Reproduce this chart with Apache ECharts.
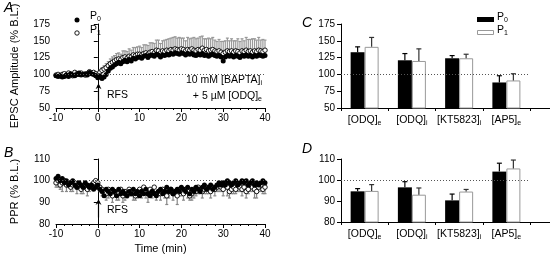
<!DOCTYPE html>
<html>
<head>
<meta charset="utf-8">
<script src="https://cdn.jsdelivr.net/npm/echarts@6/dist/echarts.min.js"></script>
<style>
  html, body { margin: 0; padding: 0; background: #fff; }
  #chart { width: 557px; height: 260px; }
</style>
</head>
<body>
<div id="chart"></div>
<script>
// time points (min)
const times = [
  -10, -9.5, -9, -8.5, -8, -7.5, -7, -6.5, -6, -5.5,
  -5, -4.5, -4, -3.5, -3, -2.5, -2, -1.5, -1, -0.5,
  0, 0.5, 1, 1.5, 2, 2.5, 3, 3.5, 4, 4.5,
  5, 5.5, 6, 6.5, 7, 7.5, 8, 8.5, 9, 9.5,
  10, 10.5, 11, 11.5, 12, 12.5, 13, 13.5, 14, 14.5,
  15, 15.5, 16, 16.5, 17, 17.5, 18, 18.5, 19, 19.5,
  20, 20.5, 21, 21.5, 22, 22.5, 23, 23.5, 24, 24.5,
  25, 25.5, 26, 26.5, 27, 27.5, 28, 28.5, 29, 29.5,
  30, 30.5, 31, 31.5, 32, 32.5, 33, 33.5, 34, 34.5,
  35, 35.5, 36, 36.5, 37, 37.5, 38, 38.5, 39, 39.5,
  40
];

// panel A: EPSC amplitude (% B.L.)
const epscP0 = [
  98, 97, 98, 96, 97, 99, 97, 101, 99, 98,
  100, 102, 99, 100, 101, 99, 103, 101, 100, 98,
  95, 98, 94, 96, 100, 105, 109, 111, 114, 116,
  118, 116, 119, 121, 119, 122, 120, 124, 123, 125,
  126, 124, 127, 128, 125, 128, 129, 127, 130, 129,
  126, 129, 128, 130, 129, 131, 130, 132, 131, 130,
  132, 131, 129, 131, 130, 131, 129, 128, 130, 129,
  131, 128, 129, 127, 129, 130, 128, 127, 128, 126,
  120, 126, 128, 127, 128, 126, 128, 127, 125, 128,
  127, 129, 127, 128, 126, 128, 127, 129, 128, 127,
  128
];
const epscP1 = [
  99, 100, 98, 100, 101, 99, 102, 100, 98, 103,
  101, 100, 102, 100, 99, 101, 104, 102, 103, 101,
  99, 103, 106, 108, 110, 113, 116, 118, 120, 122,
  123, 122, 125, 126, 124, 127, 126, 129, 128, 130,
  130, 129, 131, 132, 130, 133, 134, 132, 136, 135,
  132, 135, 134, 136, 135, 137, 136, 138, 137, 136,
  138, 137, 135, 137, 136, 138, 136, 135, 137, 136,
  139, 136, 137, 135, 136, 137, 135, 134, 135, 133,
  131, 133, 135, 134, 135, 133, 135, 134, 132, 135,
  134, 136, 134, 135, 133, 135, 134, 136, 135, 134,
  136
];
const epscP1Sem = [
  1, 1, 2, 1, 1, 2, 1, 1, 2, 1,
  1, 2, 1, 1, 2, 1, 1, 2, 1, 2,
  2, 3, 4, 5, 6, 6, 7, 8, 8, 9,
  9, 8, 10, 9, 10, 11, 10, 11, 12, 11,
  12, 11, 13, 12, 13, 14, 13, 14, 15, 16,
  14, 15, 17, 16, 18, 17, 19, 18, 17, 19,
  16, 17, 15, 18, 17, 16, 19, 18, 17, 20,
  18, 17, 16, 19, 17, 18, 16, 15, 17, 16,
  18, 17, 19, 16, 18, 17, 15, 19, 17, 18,
  16, 19, 18, 17, 20, 18, 17, 19, 16, 18,
  15
];

// panel B: PPR (% B.L.)
const pprP0 = [
  101, 102, 100, 101, 99, 100, 98, 99, 100, 98,
  97, 99, 98, 97, 99, 98, 97, 98, 96, 97,
  98, 96, 95, 93, 96, 95, 94, 96, 95, 93,
  96, 94, 95, 94, 93, 95, 94, 96, 94, 95,
  93, 95, 94, 96, 94, 93, 95, 94, 93, 95,
  96, 94, 95, 97, 95, 96, 94, 95, 96, 95,
  97, 96, 95, 97, 94, 96, 95, 97, 96, 95,
  97, 98, 96, 97, 98, 96, 97, 98, 99, 98,
  99, 98, 100, 99, 98, 99, 100, 98, 99, 100,
  99, 100, 98, 99, 100, 98, 99, 98, 99, 100,
  99
];
const pprP1 = [
  99, 100, 98, 99, 100, 98, 99, 97, 98, 99,
  97, 98, 96, 97, 98, 96, 97, 98, 99, 100,
  99, 97, 96, 95, 94, 96, 95, 93, 95, 94,
  94, 96, 93, 95, 94, 96, 95, 94, 93, 95,
  96, 95, 97, 95, 94, 96, 95, 97, 94, 95,
  94, 96, 95, 93, 95, 96, 94, 95, 93, 96,
  95, 94, 96, 95, 93, 94, 96, 95, 97, 96,
  95, 96, 97, 96, 95, 97, 96, 97, 98, 97,
  96, 98, 97, 95, 96, 97, 96, 98, 97, 96,
  97, 95, 96, 98, 97, 96, 95, 97, 98, 96,
  97
];
const pprP1Sem = [
  2, 3, 2, 4, 2, 3, 2, 2, 3, 2,
  3, 2, 2, 3, 2, 3, 2, 2, 3, 2,
  3, 2, 3, 2, 3, 4, 2, 3, 2, 3,
  3, 2, 3, 4, 2, 3, 2, 3, 2, 3,
  2, 3, 2, 3, 4, 2, 3, 2, 3, 2,
  3, 2, 3, 4, 3, 2, 3, 2, 4, 3,
  2, 3, 2, 3, 2, 3, 4, 2, 3, 2,
  3, 2, 3, 2, 3, 2, 3, 2, 3, 2,
  3, 2, 4, 3, 2, 3, 2, 3, 2, 3,
  2, 3, 2, 3, 2, 4, 3, 2, 3, 2,
  3
];

// panels C & D: summary bars
const catBase = ['[ODQ]', '[ODQ]', '[KT5823]', '[AP5]'];
const catSub = ['e', 'i', 'i', 'e'];
const epscBarP0 = [133, 121, 124, 88];
const epscBarP0Err = [8, 10, 4, 10];
const epscBarP1 = [141, 120, 124, 91];
const epscBarP1Err = [14, 18, 6, 10];
const pprBarP0 = [94.6, 96.5, 90.3, 104];
const pprBarP0Err = [1.3, 2.7, 3, 4];
const pprBarP1 = [94.8, 93, 94.5, 105.5];
const pprBarP1Err = [3, 3.2, 1, 4];

const FONT = 'Liberation Sans, Arial, sans-serif';
const chart = echarts.init(document.getElementById('chart'), null, { renderer: 'canvas' });

function pts(xs, ys, es) {
  return xs.map((x, i) => es ? [x, ys[i], es[i]] : [x, ys[i]]);
}

// vertical error bar; dir = 1 up, -1 down; off = horizontal pixel offset
function errBar(color, dir, off, cap) {
  return function (params, api) {
    const x = api.value(0), y = api.value(1), e = api.value(2);
    const p0 = api.coord([x, y]);
    const p1 = api.coord([x, y + dir * e]);
    const cx = p0[0] + off;
    return {
      type: 'group',
      children: [
        { type: 'line', shape: { x1: cx, y1: p0[1], x2: cx, y2: p1[1] }, style: { stroke: color, lineWidth: 1.2 } },
        { type: 'line', shape: { x1: cx - cap, y1: p1[1], x2: cx + cap, y2: p1[1] }, style: { stroke: color, lineWidth: 1.2 } }
      ]
    };
  };
}

// RFS arrow drawn in data coordinates (x = 0, from y0 up to y1)
function arrow(y0, y1) {
  return function (params, api) {
    const a = api.coord([0, y0]), b = api.coord([0, y1]);
    const x = Math.round(a[0]) + 0.5;
    return {
      type: 'group',
      children: [
        { type: 'line', shape: { x1: x, y1: a[1], x2: x, y2: b[1] + 2 }, style: { stroke: '#000', lineWidth: 1.2 } },
        { type: 'polygon', shape: { points: [[x - 3, b[1] + 6], [x, b[1]], [x + 3, b[1] + 6], [x, b[1] + 4]] }, style: { fill: '#000' } }
      ]
    };
  };
}

const axisLineStyle = { show: true, lineStyle: { color: '#000', width: 1 } };
const labelStyle = { color: '#000', fontSize: 10, fontFamily: FONT };
const dotted = {
  silent: true, symbol: 'none', label: { show: false },
  lineStyle: { color: '#555', type: [1, 2], width: 1 },
  data: [{ yAxis: 100 }]
};
const subRich = {
  b: { fontSize: 10.5, fontFamily: FONT, color: '#000' },
  s: { fontSize: 7, fontFamily: FONT, color: '#000', padding: [6, 0, 0, 0] }
};

function timeAxis(grid, name) {
  return {
    gridIndex: grid, type: 'value', min: -10, max: 40, interval: 10,
    axisLine: axisLineStyle,
    axisTick: { show: true, length: 4, lineStyle: { color: '#000' } },
    minorTick: { show: true, splitNumber: 5, length: 2, lineStyle: { color: '#000' } },
    splitLine: { show: false },
    axisLabel: Object.assign({ margin: 5 }, labelStyle),
    name: name || '', nameLocation: 'middle', nameGap: 19,
    nameTextStyle: { color: '#000', fontSize: 11, fontFamily: FONT }
  };
}
function valAxis(grid, min, max, interval, name) {
  return {
    gridIndex: grid, type: 'value', min: min, max: max, interval: interval,
    axisLine: axisLineStyle,
    axisTick: { show: true, length: 4, lineStyle: { color: '#000' } },
    splitLine: { show: false },
    axisLabel: Object.assign({ margin: 6 }, labelStyle),
    name: name || '', nameLocation: 'middle', nameGap: 36,
    nameTextStyle: { color: '#000', fontSize: 11, fontFamily: FONT }
  };
}
function catAxis(grid) {
  return {
    gridIndex: grid, type: 'category', data: catBase.map((b, i) => i),
    axisLine: axisLineStyle,
    axisTick: { show: true, length: 3, lineStyle: { color: '#000' } },
    splitLine: { show: false },
    axisLabel: {
      interval: 0, margin: 6,
      formatter: (v) => `{b|${catBase[v]}}{s|${catSub[v]}}`,
      rich: subRich
    }
  };
}

const option = {
  animation: false,
  backgroundColor: '#fff',
  grid: [
    { left: 56, top: 24, width: 209, height: 84 },
    { left: 56, top: 159, width: 209, height: 65 },
    { left: 341, top: 24, width: 189, height: 84 },
    { left: 341, top: 159, width: 189, height: 63 }
  ],
  xAxis: [timeAxis(0), timeAxis(1, 'Time (min)'), catAxis(2), catAxis(3)],
  yAxis: [
    valAxis(0, 50, 175, 25, 'EPSC Amplitude (% B.L.)'),
    valAxis(1, 80, 110, 10, 'PPR (% B.L.)'),
    valAxis(2, 50, 175, 25),
    valAxis(3, 80, 110, 10)
  ],
  series: [
    // panel A
    {
      type: 'custom', xAxisIndex: 0, yAxisIndex: 0, z: 2,
      data: pts(times, epscP1, epscP1Sem), renderItem: errBar('#999', 1, 0, 1.5),
      markLine: dotted
    },
    {
      type: 'scatter', xAxisIndex: 0, yAxisIndex: 0, z: 3, symbolSize: 4.5,
      data: pts(times, epscP1),
      itemStyle: { color: '#fff', borderColor: '#000', borderWidth: 0.9, opacity: 1 }
    },
    {
      type: 'scatter', xAxisIndex: 0, yAxisIndex: 0, z: 4, symbolSize: 5,
      data: pts(times, epscP0), itemStyle: { color: '#000', opacity: 1 }
    },
    { type: 'custom', xAxisIndex: 0, yAxisIndex: 0, z: 5, data: [[0]], renderItem: arrow(61, 87), clip: false },
    // panel B
    {
      type: 'custom', xAxisIndex: 1, yAxisIndex: 1, z: 2,
      data: pts(times, pprP1, pprP1Sem), renderItem: errBar('#888', -1, 0, 1.5),
      markLine: dotted
    },
    {
      type: 'scatter', xAxisIndex: 1, yAxisIndex: 1, z: 3, symbolSize: 4.5,
      data: pts(times, pprP1),
      itemStyle: { color: '#fff', borderColor: '#000', borderWidth: 0.9, opacity: 1 }
    },
    {
      type: 'scatter', xAxisIndex: 1, yAxisIndex: 1, z: 4, symbolSize: 5,
      data: pts(times, pprP0), itemStyle: { color: '#000', opacity: 1 }
    },
    { type: 'custom', xAxisIndex: 1, yAxisIndex: 1, z: 5, data: [[0]], renderItem: arrow(83, 91.5), clip: false },
    // panel C
    { type: 'line', xAxisIndex: 2, yAxisIndex: 2, data: [], z: 1, markLine: dotted },
    {
      type: 'bar', xAxisIndex: 2, yAxisIndex: 2, z: 3, barWidth: 14, barGap: '0%',
      data: epscBarP0, itemStyle: { color: '#000' }
    },
    {
      type: 'bar', xAxisIndex: 2, yAxisIndex: 2, z: 3, barWidth: 14, barGap: '0%',
      data: epscBarP1, itemStyle: { color: '#fff', borderColor: '#999', borderWidth: 1 }
    },
    {
      type: 'custom', xAxisIndex: 2, yAxisIndex: 2, z: 4,
      data: epscBarP0.map((v, i) => [i, v, epscBarP0Err[i]]), renderItem: errBar('#000', 1, -7, 2.5)
    },
    {
      type: 'custom', xAxisIndex: 2, yAxisIndex: 2, z: 4,
      data: epscBarP1.map((v, i) => [i, v, epscBarP1Err[i]]), renderItem: errBar('#333', 1, 7, 2.5)
    },
    // panel D
    { type: 'line', xAxisIndex: 3, yAxisIndex: 3, data: [], z: 1, markLine: dotted },
    {
      type: 'bar', xAxisIndex: 3, yAxisIndex: 3, z: 3, barWidth: 14, barGap: '0%',
      data: pprBarP0, itemStyle: { color: '#000' }
    },
    {
      type: 'bar', xAxisIndex: 3, yAxisIndex: 3, z: 3, barWidth: 14, barGap: '0%',
      data: pprBarP1, itemStyle: { color: '#fff', borderColor: '#999', borderWidth: 1 }
    },
    {
      type: 'custom', xAxisIndex: 3, yAxisIndex: 3, z: 4,
      data: pprBarP0.map((v, i) => [i, v, pprBarP0Err[i]]), renderItem: errBar('#000', 1, -7, 2.5)
    },
    {
      type: 'custom', xAxisIndex: 3, yAxisIndex: 3, z: 4,
      data: pprBarP1.map((v, i) => [i, v, pprBarP1Err[i]]), renderItem: errBar('#333', 1, 7, 2.5)
    }
  ],
  graphic: [
    // panel letters
    { type: 'text', left: 4, top: 1, style: { text: 'A', font: 'italic 14px ' + FONT, fill: '#000' } },
    { type: 'text', left: 4, top: 146, style: { text: 'B', font: 'italic 14px ' + FONT, fill: '#000' } },
    { type: 'text', left: 302, top: 16, style: { text: 'C', font: 'italic 14px ' + FONT, fill: '#000' } },
    { type: 'text', left: 302, top: 142, style: { text: 'D', font: 'italic 14px ' + FONT, fill: '#000' } },
    // extend bar-panel axis lines
    { type: 'line', shape: { x1: 530, y1: 108.5, x2: 550, y2: 108.5 }, style: { stroke: '#000', lineWidth: 1 } },
    { type: 'line', shape: { x1: 530, y1: 222.5, x2: 550, y2: 222.5 }, style: { stroke: '#000', lineWidth: 1 } },
    // legend A
    { type: 'circle', shape: { cx: 77, cy: 20, r: 2.5 }, style: { fill: '#000' } },
    { type: 'circle', shape: { cx: 77, cy: 33, r: 2.2 }, style: { fill: '#fff', stroke: '#000', lineWidth: 0.9 } },
    { type: 'text', left: 90, top: 11, style: { text: '{b|P}{s|0}', rich: subRich } },
    { type: 'text', left: 90, top: 25, style: { text: '{b|P}{s|1}', rich: subRich } },
    // annotation A
    { type: 'text', right: 295, top: 75, style: { text: '{b|10 mM [BAPTA]}{s|i}', rich: subRich, align: 'right' } },
    { type: 'text', right: 295, top: 91, style: { text: '{b|+ 5 µM [ODQ]}{s|e}', rich: subRich, align: 'right' } },
    { type: 'text', left: 107, top: 90, style: { text: 'RFS', font: '10.5px ' + FONT, fill: '#000' } },
    { type: 'text', left: 107, top: 205, style: { text: 'RFS', font: '10.5px ' + FONT, fill: '#000' } },
    // legend C
    { type: 'rect', shape: { x: 477, y: 17, width: 17, height: 5 }, style: { fill: '#000' } },
    { type: 'rect', shape: { x: 477.5, y: 30.5, width: 16, height: 4 }, style: { fill: '#fff', stroke: '#999', lineWidth: 1 } },
    { type: 'text', left: 497, top: 12, style: { text: '{b|P}{s|0}', rich: subRich } },
    { type: 'text', left: 497, top: 25, style: { text: '{b|P}{s|1}', rich: subRich } }
  ]
};
chart.setOption(option);
</script>
</body>
</html>
